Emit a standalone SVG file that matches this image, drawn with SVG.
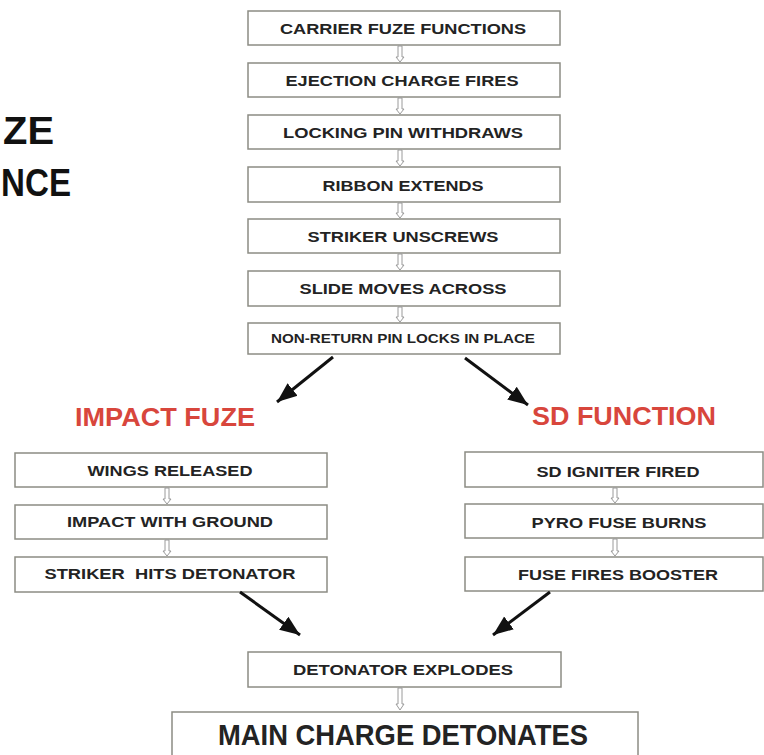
<svg xmlns="http://www.w3.org/2000/svg" width="764" height="755" viewBox="0 0 764 755">
<style>
.box{fill:#fff;stroke:#8c8c84;stroke-width:1.5}
.t{font-family:"Liberation Sans",Arial,sans-serif;font-weight:bold;font-size:15px;fill:#232323;text-anchor:middle}
.h{font-family:"Liberation Sans",Arial,sans-serif;font-weight:bold;font-size:25px;fill:#d8463c;text-anchor:middle}
.title{font-family:"Liberation Sans",Arial,sans-serif;font-weight:bold;font-size:39px;fill:#111}
.sa{fill:#fff;stroke:#9a9a9a;stroke-width:1}
.big{stroke:#111;stroke-width:3;fill:none}
</style>
<defs>
<marker id="ah" markerUnits="userSpaceOnUse" markerWidth="22" markerHeight="18" refX="20" refY="9" orient="auto">
<path d="M0,1 L20,9 L0,17 Z" fill="#111"/>
</marker>
</defs>
<rect width="764" height="755" fill="#fff"/>
<g id="title">
<text class="title" x="3" y="144" textLength="51" lengthAdjust="spacingAndGlyphs">ZE</text>
<text class="title" x="1" y="196" textLength="70" lengthAdjust="spacingAndGlyphs">NCE</text>
</g>
<g id="n1"><rect class="box" x="248" y="11" width="312" height="34"/><text class="t" x="403" y="34" textLength="246" lengthAdjust="spacingAndGlyphs">CARRIER FUZE FUNCTIONS</text></g>
<g id="n2"><rect class="box" x="248" y="63" width="312" height="34"/><text class="t" x="402" y="86" textLength="233" lengthAdjust="spacingAndGlyphs">EJECTION CHARGE FIRES</text></g>
<g id="n3"><rect class="box" x="248" y="115" width="312" height="34"/><text class="t" x="403" y="138" textLength="240" lengthAdjust="spacingAndGlyphs">LOCKING PIN WITHDRAWS</text></g>
<g id="n4"><rect class="box" x="248" y="167" width="312" height="35"/><text class="t" x="403" y="191" textLength="161" lengthAdjust="spacingAndGlyphs">RIBBON EXTENDS</text></g>
<g id="n5"><rect class="box" x="248" y="219" width="312" height="34"/><text class="t" x="403" y="242" textLength="191" lengthAdjust="spacingAndGlyphs">STRIKER UNSCREWS</text></g>
<g id="n6"><rect class="box" x="248" y="271" width="312" height="35"/><text class="t" x="403" y="294" textLength="207" lengthAdjust="spacingAndGlyphs">SLIDE MOVES ACROSS</text></g>
<g id="n7"><rect class="box" x="248" y="323" width="312" height="31"/><text class="t" x="403" y="343" style="font-size:13.5px" textLength="264" lengthAdjust="spacingAndGlyphs">NON-RETURN PIN LOCKS IN PLACE</text></g>
<g id="impact"><text class="h" x="165" y="426" textLength="180" lengthAdjust="spacingAndGlyphs">IMPACT FUZE</text></g>
<g id="sd"><text class="h" x="624" y="425" textLength="184" lengthAdjust="spacingAndGlyphs">SD FUNCTION</text></g>
<g id="l1"><rect class="box" x="15" y="453" width="312" height="34"/><text class="t" x="170" y="476" textLength="165" lengthAdjust="spacingAndGlyphs">WINGS RELEASED</text></g>
<g id="l2"><rect class="box" x="15" y="505" width="312" height="34"/><text class="t" x="170" y="527" textLength="206" lengthAdjust="spacingAndGlyphs">IMPACT WITH GROUND</text></g>
<g id="l3"><rect class="box" x="15" y="557" width="312" height="35"/><text class="t" x="170" y="579" textLength="251" lengthAdjust="spacingAndGlyphs" xml:space="preserve">STRIKER  HITS DETONATOR</text></g>
<g id="r1"><rect class="box" x="465" y="452" width="298" height="35"/><text class="t" x="618" y="477" textLength="163" lengthAdjust="spacingAndGlyphs">SD IGNITER FIRED</text></g>
<g id="r2"><rect class="box" x="465" y="504" width="298" height="34"/><text class="t" x="619" y="528" textLength="175" lengthAdjust="spacingAndGlyphs">PYRO FUSE BURNS</text></g>
<g id="r3"><rect class="box" x="465" y="557" width="298" height="34"/><text class="t" x="618" y="580" textLength="200" lengthAdjust="spacingAndGlyphs">FUSE FIRES BOOSTER</text></g>
<g id="det"><rect class="box" x="248" y="652" width="313" height="35"/><text class="t" x="403" y="675" textLength="220" lengthAdjust="spacingAndGlyphs">DETONATOR EXPLODES</text></g>
<g id="main"><rect class="box" x="172" y="712" width="466" height="60"/><text class="t" x="403" y="745" style="font-size:30px" textLength="370" lengthAdjust="spacingAndGlyphs">MAIN CHARGE DETONATES</text></g>
<g id="connectors">
<path class="sa" d="M398,46 V57 H396 L400,62 L404,57 H402 V46 Z"/>
<path class="sa" d="M398,98 V109 H396 L400,114 L404,109 H402 V98 Z"/>
<path class="sa" d="M398,150 V161 H396 L400,166 L404,161 H402 V150 Z"/>
<path class="sa" d="M398,203 V213 H396 L400,218 L404,213 H402 V203 Z"/>
<path class="sa" d="M398,254 V265 H396 L400,270 L404,265 H402 V254 Z"/>
<path class="sa" d="M398,307 V317 H396 L400,322 L404,317 H402 V307 Z"/>
<path class="sa" d="M165,488 V499 H163 L167,504 L171,499 H169 V488 Z"/>
<path class="sa" d="M165,540 V551 H163 L167,556 L171,551 H169 V540 Z"/>
<path class="sa" d="M613,488 V498 H611 L615,503 L619,498 H617 V488 Z"/>
<path class="sa" d="M613,539 V551 H611 L615,556 L619,551 H617 V539 Z"/>
<path class="sa" d="M398,688 V704 H396 L400,710 L404,704 H402 V688 Z"/>
<line class="big" x1="333" y1="357" x2="277" y2="402" marker-end="url(#ah)"/>
<line class="big" x1="465" y1="358" x2="528" y2="405" marker-end="url(#ah)"/>
<line class="big" x1="240" y1="592" x2="300" y2="635" marker-end="url(#ah)"/>
<line class="big" x1="550" y1="592" x2="493" y2="635" marker-end="url(#ah)"/>
</g>
</svg>
